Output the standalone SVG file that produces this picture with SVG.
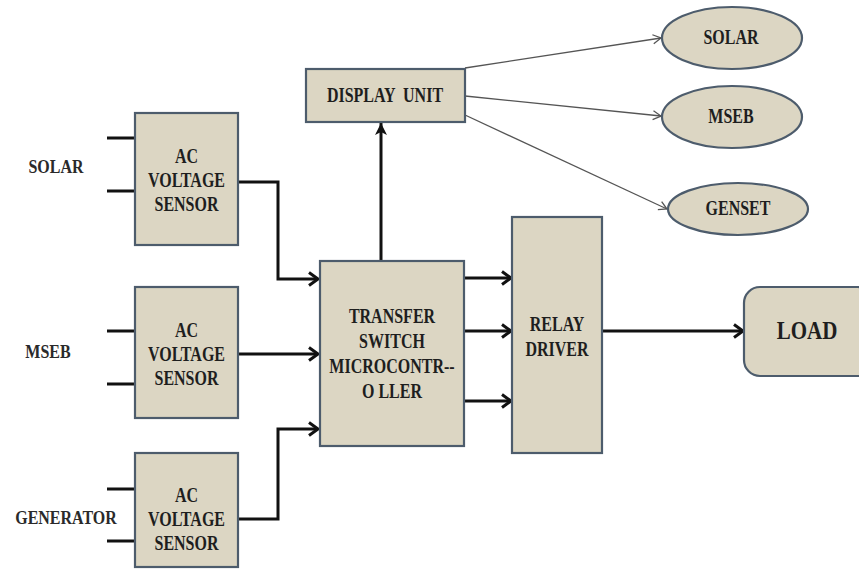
<svg xmlns="http://www.w3.org/2000/svg" width="859" height="584" viewBox="0 0 859 584">
<style>
.box{fill:#dcd6c3;stroke:#4d5c6c;stroke-width:2.2}
.t{font-family:'Liberation Serif','DejaVu Serif',serif;font-weight:700;font-size:16px;fill:#1e1e1e;text-anchor:middle}
.lbl{font-family:'Liberation Serif','DejaVu Serif',serif;font-weight:700;font-size:16px;fill:#2a2a2a;text-anchor:middle}
.w{fill:none;stroke:#111;stroke-width:3}
.thin{fill:none;stroke:#555;stroke-width:1.3}
</style>
<defs>
<marker id="a" markerUnits="userSpaceOnUse" markerWidth="14" markerHeight="16" refX="11" refY="8" orient="auto">
<path d="M2,1.5 L11,8 L2,14.5" fill="none" stroke="#111" stroke-width="3"/>
</marker>
<marker id="f" markerUnits="userSpaceOnUse" markerWidth="14" markerHeight="14" refX="12" refY="7" orient="auto">
<path d="M0,1 L12,7 L0,13 L3,7 Z" fill="#111"/>
</marker>
<marker id="b" markerUnits="userSpaceOnUse" markerWidth="12" markerHeight="12" refX="9" refY="6" orient="auto">
<path d="M1,1.5 L9,6 L1,10.5" fill="none" stroke="#555" stroke-width="1.3"/>
</marker>
</defs>
<rect width="859" height="584" fill="#fff"/>

<g id="connectors">
<path class="w" d="M107,138H135M107,191H135M107,331H135M107,384H135M107,489H135M107,541H135"/>
<polyline class="w" points="238,182 278,182 278,279 318,279" marker-end="url(#a)"/>
<line class="w" x1="238" y1="354" x2="318" y2="354" marker-end="url(#a)"/>
<polyline class="w" points="238,519 278,519 278,429 318,429" marker-end="url(#a)"/>
<line class="w" x1="464" y1="278" x2="511" y2="278" marker-end="url(#a)"/>
<line class="w" x1="464" y1="331" x2="511" y2="331" marker-end="url(#a)"/>
<line class="w" x1="464" y1="401" x2="511" y2="401" marker-end="url(#a)"/>
<line class="w" x1="602" y1="331" x2="743" y2="331" marker-end="url(#a)"/>
<line class="w" x1="381" y1="261" x2="381" y2="123" marker-end="url(#f)"/>
<line class="thin" x1="465" y1="68" x2="661" y2="38" marker-end="url(#b)"/>
<line class="thin" x1="465" y1="96" x2="661" y2="116" marker-end="url(#b)"/>
<line class="thin" x1="465" y1="115" x2="667" y2="209" marker-end="url(#b)"/>
</g>

<g id="label-solar"><text class="lbl" transform="translate(56 173) scale(1 1.15)">SOLAR</text></g>
<g id="label-mseb"><text class="lbl" transform="translate(48 358) scale(1 1.15)">MSEB</text></g>
<g id="label-generator"><text class="lbl" transform="translate(66 524) scale(1 1.15)">GENERATOR</text></g>

<g id="sensor1">
<rect class="box" x="135" y="113" width="103" height="132"/>
<text class="t" transform="translate(186.5 163) scale(1 1.35)">AC</text>
<text class="t" transform="translate(186.5 187) scale(1 1.35)">VOLTAGE</text>
<text class="t" transform="translate(186.5 211) scale(1 1.35)">SENSOR</text>
</g>
<g id="sensor2">
<rect class="box" x="135" y="287" width="103" height="131"/>
<text class="t" transform="translate(186.5 337) scale(1 1.35)">AC</text>
<text class="t" transform="translate(186.5 361) scale(1 1.35)">VOLTAGE</text>
<text class="t" transform="translate(186.5 385) scale(1 1.35)">SENSOR</text>
</g>
<g id="sensor3">
<rect class="box" x="135" y="453" width="103" height="114"/>
<text class="t" transform="translate(186.5 502) scale(1 1.35)">AC</text>
<text class="t" transform="translate(186.5 526) scale(1 1.35)">VOLTAGE</text>
<text class="t" transform="translate(186.5 550) scale(1 1.35)">SENSOR</text>
</g>

<g id="microcontroller">
<rect class="box" x="320" y="261" width="144" height="185"/>
<text class="t" transform="translate(392 323) scale(1 1.35)">TRANSFER</text>
<text class="t" transform="translate(392 348) scale(1 1.35)">SWITCH</text>
<text class="t" transform="translate(392 373) scale(1 1.35)">MICROCONTR--</text>
<text class="t" transform="translate(392 398) scale(1 1.35)">O LLER</text>
</g>

<g id="relay-driver">
<rect class="box" x="512" y="217" width="90" height="236"/>
<text class="t" transform="translate(557 331) scale(1 1.35)">RELAY</text>
<text class="t" transform="translate(557 356) scale(1 1.35)">DRIVER</text>
</g>

<g id="display-unit">
<rect class="box" x="306" y="69" width="159" height="53"/>
<text class="t" transform="translate(385 102) scale(1 1.35)" xml:space="preserve">DISPLAY  UNIT</text>
</g>

<g id="disp-solar">
<ellipse class="box" cx="732" cy="38" rx="70" ry="31"/>
<text class="t" transform="translate(731 44) scale(1 1.35)">SOLAR</text>
</g>
<g id="disp-mseb">
<ellipse class="box" cx="732" cy="117" rx="70" ry="31"/>
<text class="t" transform="translate(731 123) scale(1 1.35)">MSEB</text>
</g>
<g id="disp-genset">
<ellipse class="box" cx="738" cy="209" rx="70" ry="26"/>
<text class="t" transform="translate(738 215) scale(1 1.35)">GENSET</text>
</g>

<g id="load">
<rect class="box" x="744" y="287" width="130" height="89" rx="16"/>
<text class="t" style="font-size:21px" transform="translate(807 339) scale(1 1.2)">LOAD</text>
</g>
</svg>
